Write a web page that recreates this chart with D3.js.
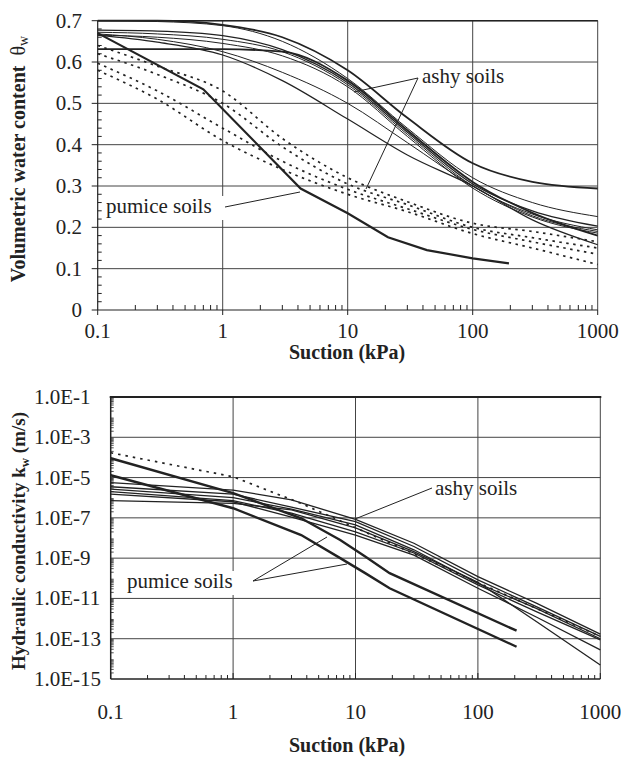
<!DOCTYPE html>
<html>
<head>
<meta charset="utf-8">
<style>
  body { margin: 0; background: #fff; }
  .grid line { stroke: #444; stroke-width: 1; }
</style>
</head>
<body>
<svg id="chart" width="621" height="758" font-family="'Liberation Serif', Tinos, 'Times New Roman', serif"></svg>
<script src="https://d3js.org/d3.v7.min.js"></script>
<script>
// ---- data ----
var suction = [0.1, 0.3, 1, 3, 10, 30, 100, 300, 1000];   // kPa, for the water content curves

// ashy soils, volumetric water content
var ashy1 = [0.700, 0.700, 0.690, 0.660, 0.580, 0.465, 0.355, 0.310, 0.294];
var ashy2 = [0.700, 0.698, 0.688, 0.650, 0.560, 0.440, 0.320, 0.260, 0.226];
var ashy3 = [0.677, 0.675, 0.664, 0.630, 0.550, 0.430, 0.305, 0.240, 0.203];
var ashy4 = [0.672, 0.668, 0.655, 0.625, 0.545, 0.425, 0.300, 0.232, 0.194];
var ashy5 = [0.665, 0.660, 0.645, 0.615, 0.540, 0.420, 0.295, 0.225, 0.186];
var ashy6 = [0.631, 0.631, 0.631, 0.625, 0.555, 0.435, 0.310, 0.235, 0.180];
var ashy7 = [0.668, 0.655, 0.625, 0.575, 0.500, 0.405, 0.300, 0.228, 0.190];
var ashy8 = [0.665, 0.648, 0.617, 0.555, 0.462, 0.375, 0.300, 0.218, 0.158];

// pumice soils, dotted curves
var pum1 = [0.640, 0.590, 0.530, 0.415, 0.320, 0.262, 0.210, 0.190, 0.165];
var pum2 = [0.620, 0.570, 0.500, 0.395, 0.305, 0.255, 0.200, 0.175, 0.150];
var pum3 = [0.597, 0.530, 0.440, 0.360, 0.292, 0.245, 0.195, 0.165, 0.135];
var pum4 = [0.580, 0.510, 0.410, 0.340, 0.280, 0.238, 0.185, 0.150, 0.110];

// pumice soil, thick solid curve
var pumThickS = [0.1, 0.7, 4.2, 10, 21, 43, 100, 195];
var pumThickT = [0.670, 0.534, 0.294, 0.234, 0.176, 0.145, 0.125, 0.113];

// hydraulic conductivity (m/s)
var ksAshy = [0.1, 1, 3, 10, 30, 100, 300, 1000];
var kAshy1 = [5.6e-6, 2.4e-6, 7.8e-7, 8.5e-8, 5.5e-9, 1.2e-10, 5.8e-12, 1.7e-13];
var kAshy2 = [3.5e-6, 1.5e-6, 3.4e-7, 6.5e-8, 3.8e-9, 8.3e-11, 3.9e-12, 1.3e-13];
var kAshy3 = [2.7e-6, 1.0e-6, 2.7e-7, 4.5e-8, 2.6e-9, 5.6e-11, 3.2e-12, 1.0e-13];
var kAshy4 = [2.0e-6, 7.1e-7, 1.7e-7, 2.0e-8, 1.8e-9, 4.7e-11, 2.2e-12, 8.7e-14];
var kAshy5 = [1.5e-6, 6.3e-7, 1.1e-7, 1.4e-8, 1.4e-9, 3.2e-11, 1.2e-12, 2.8e-14];
var kAshy6 = [7.1e-7, 5.2e-7, 2.5e-7, 3.2e-8, 2.1e-9, 6.3e-11, 7.1e-13, 5.0e-15];

var ksDot = [0.1, 1, 3.6, 11, 32, 110, 1000];
var kDot  = [1.7e-4, 1.1e-5, 5.2e-7, 2.5e-8, 1.4e-9, 4.7e-11, 1.3e-13];

var ksPum = [0.1, 1, 3.6, 7.5, 12, 19, 207];
var kPum1 = [9.1e-5, 1.7e-6, 9.5e-8, 7.9e-9, 1.2e-9, 1.8e-10, 2.5e-13];
var kPum2 = [1.3e-5, 3.0e-7, 1.4e-8, 1.0e-9, 1.8e-10, 3.2e-11, 4.0e-14];

var xTicks = [0.1, 1, 10, 100, 1000];
var xTickLabels = ["0.1", "1", "10", "100", "1000"];
var thetaTicks = [0, 0.1, 0.2, 0.3, 0.4, 0.5, 0.6, 0.7];
var kTicks = [1e-1, 1e-3, 1e-5, 1e-7, 1e-9, 1e-11, 1e-13, 1e-15];
var kTickLabels = ["1.0E-1", "1.0E-3", "1.0E-5", "1.0E-7", "1.0E-9", "1.0E-11", "1.0E-13", "1.0E-15"];

var svg = d3.select("#chart");
var ink = "#222";

function zip(xs, ys) { return xs.map(function(x, i) { return [x, ys[i]]; }); }

// minor ticks 2..9 of each decade
function minorLog(lo, hi) {
  var out = [];
  for (var e = lo; e < hi; e++)
    for (var m = 2; m <= 9; m++) out.push(m * Math.pow(10, e));
  return out;
}

// ================= top chart =================
var x1 = d3.scaleLog().domain([0.1, 1000]).range([97.7, 597.7]);
var y1 = d3.scaleLinear().domain([0, 0.7]).range([310, 20.7]);
var g1 = svg.append("g");

var grid1 = g1.append("g").attr("class", "grid");
grid1.selectAll(".gx").data(xTicks.slice(1)).enter().append("line")
  .attr("x1", function(d) { return x1(d); }).attr("x2", function(d) { return x1(d); })
  .attr("y1", y1(0)).attr("y2", y1(0.7));
grid1.selectAll(".gy").data(thetaTicks.slice(1)).enter().append("line")
  .attr("x1", x1(0.1)).attr("x2", x1(1000))
  .attr("y1", function(d) { return y1(d); }).attr("y2", function(d) { return y1(d); });

// axes
g1.append("line").attr("x1", x1(0.1)).attr("x2", x1(0.1)).attr("y1", y1(0)).attr("y2", y1(0.7))
  .attr("stroke", ink).attr("stroke-width", 1.2);
g1.append("line").attr("x1", x1(0.1)).attr("x2", x1(1000)).attr("y1", y1(0)).attr("y2", y1(0))
  .attr("stroke", ink).attr("stroke-width", 1.2);
g1.append("line").attr("x1", x1(0.1)).attr("x2", x1(1000)).attr("y1", y1(0.7)).attr("y2", y1(0.7))
  .attr("stroke", ink).attr("stroke-width", 1.5);

// y ticks
g1.selectAll(".ym").data(thetaTicks).enter().append("line")
  .attr("x1", x1(0.1) - 6).attr("x2", x1(0.1))
  .attr("y1", function(d) { return y1(d); }).attr("y2", function(d) { return y1(d); })
  .attr("stroke", ink);
g1.selectAll(".yn").data(d3.range(1, 35).filter(function(i) { return i % 5; }).map(function(i) { return i * 0.02; }))
  .enter().append("line")
  .attr("x1", x1(0.1)).attr("x2", x1(0.1) + 4)
  .attr("y1", function(d) { return y1(d); }).attr("y2", function(d) { return y1(d); })
  .attr("stroke", ink);
g1.selectAll(".yl").data(thetaTicks).enter().append("text")
  .attr("x", 82).attr("y", function(d) { return y1(d) + 7; })
  .attr("text-anchor", "end").attr("font-size", 21).attr("fill", ink)
  .text(function(d) { return d === 0 ? "0" : d.toFixed(1); });

// x ticks
g1.selectAll(".xm").data(xTicks).enter().append("line")
  .attr("x1", function(d) { return x1(d); }).attr("x2", function(d) { return x1(d); })
  .attr("y1", y1(0)).attr("y2", y1(0) + 5).attr("stroke", ink);
g1.selectAll(".xn").data(minorLog(-1, 3)).enter().append("line")
  .attr("x1", function(d) { return x1(d); }).attr("x2", function(d) { return x1(d); })
  .attr("y1", y1(0) - 5).attr("y2", y1(0)).attr("stroke", ink);
g1.selectAll(".xl").data(xTicks).enter().append("text")
  .attr("x", function(d) { return x1(d); }).attr("y", 338)
  .attr("text-anchor", "middle").attr("font-size", 21).attr("fill", ink)
  .text(function(d, i) { return xTickLabels[i]; });

g1.append("text").attr("x", 347).attr("y", 359).attr("text-anchor", "middle").attr("fill", ink)
  .attr("font-size", 20).attr("font-weight", "bold").text("Suction (kPa)");

var yl1 = g1.append("text").attr("transform", "translate(25,159) rotate(-90)").attr("fill", ink)
  .attr("text-anchor", "middle").attr("font-size", 20).attr("font-weight", "bold");
yl1.append("tspan").text("Volumetric water content\u00a0\u00a0");
yl1.append("tspan").attr("font-weight", "normal").attr("font-size", 20).text("\u03b8");
yl1.append("tspan").attr("font-weight", "normal").attr("font-size", 14).attr("dy", 3).text("w");

var line1 = d3.line().x(function(d) { return x1(d[0]); }).y(function(d) { return y1(d[1]); })
  .curve(d3.curveMonotoneX);
var lineLin1 = d3.line().x(function(d) { return x1(d[0]); }).y(function(d) { return y1(d[1]); });

var ashySets = [ashy1, ashy2, ashy3, ashy4, ashy5, ashy6, ashy7, ashy8];
var ashyWidths = [1.8, 1, 1.2, 1, 1, 1.8, 1, 1.2];
ashySets.forEach(function(s, i) {
  g1.append("path").attr("d", line1(zip(suction, s)))
    .attr("fill", "none").attr("stroke", ink).attr("stroke-width", ashyWidths[i]);
});
[pum1, pum2, pum3, pum4].forEach(function(s) {
  g1.append("path").attr("d", line1(zip(suction, s)))
    .attr("fill", "none").attr("stroke", ink).attr("stroke-width", 1.7)
    .attr("stroke-dasharray", "2.5,4.5");
});
g1.append("path").attr("d", lineLin1(zip(pumThickS, pumThickT)))
  .attr("fill", "none").attr("stroke", ink).attr("stroke-width", 2.2);

// annotations
g1.append("text").attr("x", 422).attr("y", 83).attr("font-size", 21).attr("fill", ink).text("ashy soils");
g1.append("polyline").attr("points", "418,78 354,92").attr("fill", "none").attr("stroke", ink);
g1.append("polyline").attr("points", "418,78 366,189").attr("fill", "none").attr("stroke", ink);
g1.append("rect").attr("x", 104).attr("y", 196).attr("width", 120).attr("height", 24).attr("fill", "#fff");
g1.append("text").attr("x", 106).attr("y", 213).attr("font-size", 21).attr("fill", ink).text("pumice soils");
g1.append("polyline").attr("points", "225,207 300,192").attr("fill", "none").attr("stroke", ink);

// ================= bottom chart =================
var x2 = d3.scaleLog().domain([0.1, 1000]).range([110.7, 600.3]);
var y2 = d3.scaleLog().domain([1e-15, 1e-1]).range([679, 397]);
var g2 = svg.append("g");

var grid2 = g2.append("g").attr("class", "grid");
grid2.selectAll(".gx").data(xTicks.slice(1)).enter().append("line")
  .attr("x1", function(d) { return x2(d); }).attr("x2", function(d) { return x2(d); })
  .attr("y1", y2(1e-15)).attr("y2", y2(1e-1));
grid2.selectAll(".gy").data(kTicks.slice(0, -1)).enter().append("line")
  .attr("x1", x2(0.1)).attr("x2", x2(1000))
  .attr("y1", function(d) { return y2(d); }).attr("y2", function(d) { return y2(d); });

g2.append("line").attr("x1", x2(0.1)).attr("x2", x2(0.1)).attr("y1", y2(1e-15)).attr("y2", y2(1e-1))
  .attr("stroke", ink).attr("stroke-width", 1.5);
g2.append("line").attr("x1", x2(0.1)).attr("x2", x2(1000)).attr("y1", y2(1e-15)).attr("y2", y2(1e-15))
  .attr("stroke", ink).attr("stroke-width", 1.5);
g2.append("line").attr("x1", x2(0.1) - 1).attr("x2", x2(1000) + 1).attr("y1", y2(1e-1)).attr("y2", y2(1e-1))
  .attr("stroke", ink).attr("stroke-width", 2.2);

g2.selectAll(".yn").data(minorLog(-15, -1)).enter().append("line")
  .attr("x1", x2(0.1)).attr("x2", x2(0.1) + 3)
  .attr("y1", function(d) { return y2(d); }).attr("y2", function(d) { return y2(d); })
  .attr("stroke", ink).attr("stroke-width", 0.8);
g2.selectAll(".yl").data(kTicks).enter().append("text")
  .attr("x", 34).attr("y", function(d) { return y2(d) + 7; })
  .attr("font-size", 21).attr("fill", ink)
  .text(function(d, i) { return kTickLabels[i]; });

g2.selectAll(".xm").data(xTicks).enter().append("line")
  .attr("x1", function(d) { return x2(d); }).attr("x2", function(d) { return x2(d); })
  .attr("y1", y2(1e-15) - 6).attr("y2", y2(1e-15)).attr("stroke", ink);
g2.selectAll(".xn").data(minorLog(-1, 3)).enter().append("line")
  .attr("x1", function(d) { return x2(d); }).attr("x2", function(d) { return x2(d); })
  .attr("y1", y2(1e-15) - 4).attr("y2", y2(1e-15)).attr("stroke", ink);
g2.selectAll(".xl").data(xTicks).enter().append("text")
  .attr("x", function(d) { return x2(d); }).attr("y", 719)
  .attr("text-anchor", "middle").attr("font-size", 21).attr("fill", ink)
  .text(function(d, i) { return xTickLabels[i]; });

g2.append("text").attr("x", 347).attr("y", 752).attr("text-anchor", "middle").attr("fill", ink)
  .attr("font-size", 20).attr("font-weight", "bold").text("Suction (kPa)");

var yl2 = g2.append("text").attr("transform", "translate(25,541) rotate(-90)").attr("fill", ink)
  .attr("text-anchor", "middle").attr("font-size", 19).attr("font-weight", "bold");
yl2.append("tspan").text("Hydraulic conductivity k");
yl2.append("tspan").attr("font-size", 13).attr("dy", 4).text("w");
yl2.append("tspan").attr("dy", -4).text(" (m/s)");

var line2 = d3.line().x(function(d) { return x2(d[0]); }).y(function(d) { return y2(d[1]); });

[kAshy1, kAshy2, kAshy3, kAshy4, kAshy5, kAshy6].forEach(function(s) {
  g2.append("path").attr("d", line2(zip(ksAshy, s)))
    .attr("fill", "none").attr("stroke", ink).attr("stroke-width", 1.3);
});
g2.append("path").attr("d", line2(zip(ksDot, kDot)))
  .attr("fill", "none").attr("stroke", ink).attr("stroke-width", 1.7)
  .attr("stroke-dasharray", "2.5,5");
[kPum1, kPum2].forEach(function(s) {
  g2.append("path").attr("d", line2(zip(ksPum, s)))
    .attr("fill", "none").attr("stroke", ink).attr("stroke-width", 2.4);
});

g2.append("text").attr("x", 435).attr("y", 495).attr("font-size", 21).attr("fill", ink).text("ashy soils");
g2.append("polyline").attr("points", "432,488 355,519").attr("fill", "none").attr("stroke", ink);
g2.append("rect").attr("x", 125).attr("y", 571).attr("width", 126).attr("height", 24).attr("fill", "#fff");
g2.append("text").attr("x", 127).attr("y", 588).attr("font-size", 21).attr("fill", ink).text("pumice soils");
g2.append("polyline").attr("points", "327,537 253,581 347,564").attr("fill", "none").attr("stroke", ink);
</script>
</body>
</html>
